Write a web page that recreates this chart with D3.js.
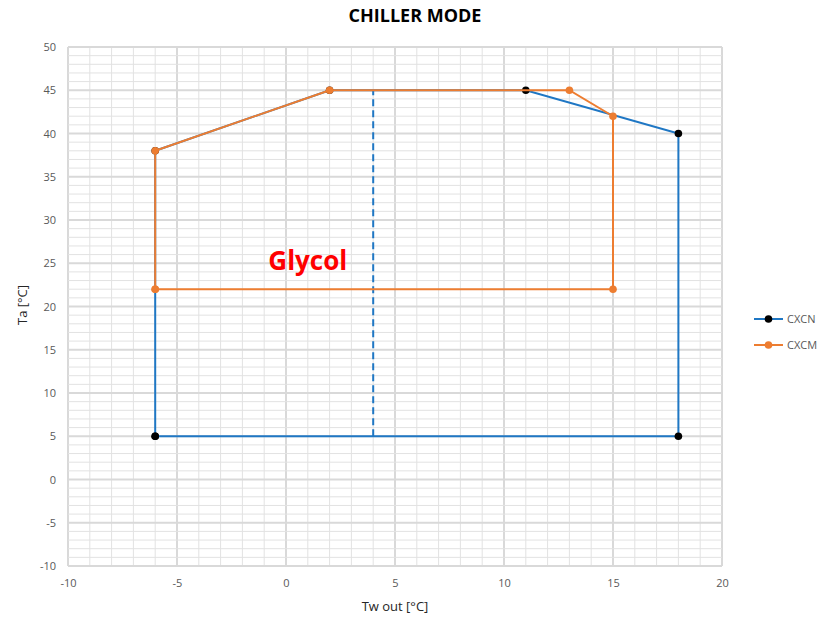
<!DOCTYPE html>
<html>
<head>
<meta charset="utf-8">
<script src="https://cdn.jsdelivr.net/npm/d3@7"></script>
<style>
  html, body { margin: 0; padding: 0; background: #fff; }
  svg { display: block; font-family: "Open Sans", "Liberation Sans", sans-serif; }
</style>
</head>
<body>
<svg id="chart" width="821" height="617"></svg>
<script>
// ── Data ──────────────────────────────────────────────────────────────────────
const cxcnX = [-6, -6, 2, 11, 18, 18, -6];
const cxcnY = [5, 38, 45, 45, 40, 5, 5];
const cxcmX = [-6, -6, 2, 13, 15, 15, -6];
const cxcmY = [22, 38, 45, 45, 42, 22, 22];
const dividerX = [4, 4];
const dividerY = [5, 45];
const xTicks = [-10, -5, 0, 5, 10, 15, 20];
const yTicks = [-10, -5, 0, 5, 10, 15, 20, 25, 30, 35, 40, 45, 50];
const seriesNames = ["CXCN", "CXCM"];

// ── Layout ────────────────────────────────────────────────────────────────────
const PLOT_L = 68, PLOT_R = 722, PLOT_T = 47, PLOT_B = 566;
const BLUE = "#1f77c4", ORANGE = "#ed7d31";

const svg = d3.select("#chart");

const x = d3.scaleLinear().domain([-10, 20]).range([PLOT_L, PLOT_R]);
const y = d3.scaleLinear().domain([-10, 50]).range([PLOT_B, PLOT_T]);

// ── Gridlines ─────────────────────────────────────────────────────────────────
const grid = svg.append("g");
d3.range(-10, 21, 1).forEach(v => {
  const major = v % 5 === 0;
  grid.append("line")
    .attr("x1", x(v)).attr("x2", x(v))
    .attr("y1", PLOT_T).attr("y2", PLOT_B)
    .attr("stroke", major ? "#d9d9d9" : "#e2e2e2")
    .attr("stroke-width", major ? 2 : 1);
});
d3.range(-10, 51, 1).forEach(v => {
  const major = v % 5 === 0;
  grid.append("line")
    .attr("x1", PLOT_L).attr("x2", PLOT_R)
    .attr("y1", y(v)).attr("y2", y(v))
    .attr("stroke", major ? "#d9d9d9" : "#e2e2e2")
    .attr("stroke-width", major ? 2 : 1);
});

// ── Axes ──────────────────────────────────────────────────────────────────────
const xAxis = svg.append("g")
  .attr("transform", `translate(0, ${PLOT_B})`)
  .call(d3.axisBottom(x).tickValues(xTicks).tickFormat(d => String(d))
    .tickSize(0).tickPadding(13));
xAxis.select(".domain").remove();
xAxis.selectAll(".tick text").attr("fill", "#595959").attr("font-size", "11px")
  .attr("font-family", "Open Sans, sans-serif");

const yAxis = svg.append("g")
  .attr("transform", `translate(${PLOT_L}, 0)`)
  .call(d3.axisLeft(y).tickValues(yTicks).tickFormat(d => String(d))
    .tickSize(0).tickPadding(12));
yAxis.select(".domain").remove();
yAxis.selectAll(".tick text").attr("fill", "#595959").attr("font-size", "11px")
  .attr("font-family", "Open Sans, sans-serif");

// ── Series ────────────────────────────────────────────────────────────────────
const line = d3.line().x(d => x(d[0])).y(d => y(d[1]));

svg.append("path")
  .datum(d3.zip(dividerX, dividerY))
  .attr("d", line)
  .attr("fill", "none").attr("stroke", BLUE)
  .attr("stroke-width", 2).attr("stroke-dasharray", "7,4");

function drawSeries(xs, ys, color, markerColor) {
  const pts = d3.zip(xs, ys);
  svg.append("path").datum(pts).attr("d", line)
    .attr("fill", "none").attr("stroke", color).attr("stroke-width", 2);
  svg.append("g").selectAll("circle").data(pts).join("circle")
    .attr("cx", d => x(d[0])).attr("cy", d => y(d[1])).attr("r", 3.8)
    .attr("fill", markerColor);
}
drawSeries(cxcnX, cxcnY, BLUE, "#000");
drawSeries(cxcmX, cxcmY, ORANGE, ORANGE);

// ── Annotation ────────────────────────────────────────────────────────────────
svg.append("text")
  .attr("x", x(1)).attr("y", y(24.2))
  .attr("text-anchor", "middle")
  .attr("font-size", "26px").attr("font-weight", "bold")
  .attr("fill", "#ff0000")
  .text("Glycol");

// ── Titles ────────────────────────────────────────────────────────────────────
svg.append("text")
  .attr("x", 415).attr("y", 22)
  .attr("text-anchor", "middle")
  .attr("font-size", "18px").attr("font-weight", "bold")
  .attr("fill", "#000")
  .text("CHILLER MODE");

svg.append("text")
  .attr("x", 395).attr("y", 611)
  .attr("text-anchor", "middle")
  .attr("font-size", "13px").attr("fill", "#262626")
  .text("Tw out [°C]");

svg.append("text")
  .attr("transform", "translate(27, 305) rotate(-90)")
  .attr("text-anchor", "middle")
  .attr("font-size", "13px").attr("fill", "#262626")
  .text("Ta [°C]");

// ── Legend ────────────────────────────────────────────────────────────────────
const legendColors = [[BLUE, "#000"], [ORANGE, ORANGE]];
seriesNames.forEach((name, i) => {
  const ly = 319 + i * 26;
  const g = svg.append("g");
  g.append("line").attr("x1", 754).attr("x2", 783).attr("y1", ly).attr("y2", ly)
    .attr("stroke", legendColors[i][0]).attr("stroke-width", 2);
  g.append("circle").attr("cx", 768.5).attr("cy", ly).attr("r", 3.8)
    .attr("fill", legendColors[i][1]);
  g.append("text").attr("x", 787).attr("y", ly + 4)
    .attr("font-size", "11px").attr("fill", "#595959")
    .text(name);
});
</script>
</body>
</html>
